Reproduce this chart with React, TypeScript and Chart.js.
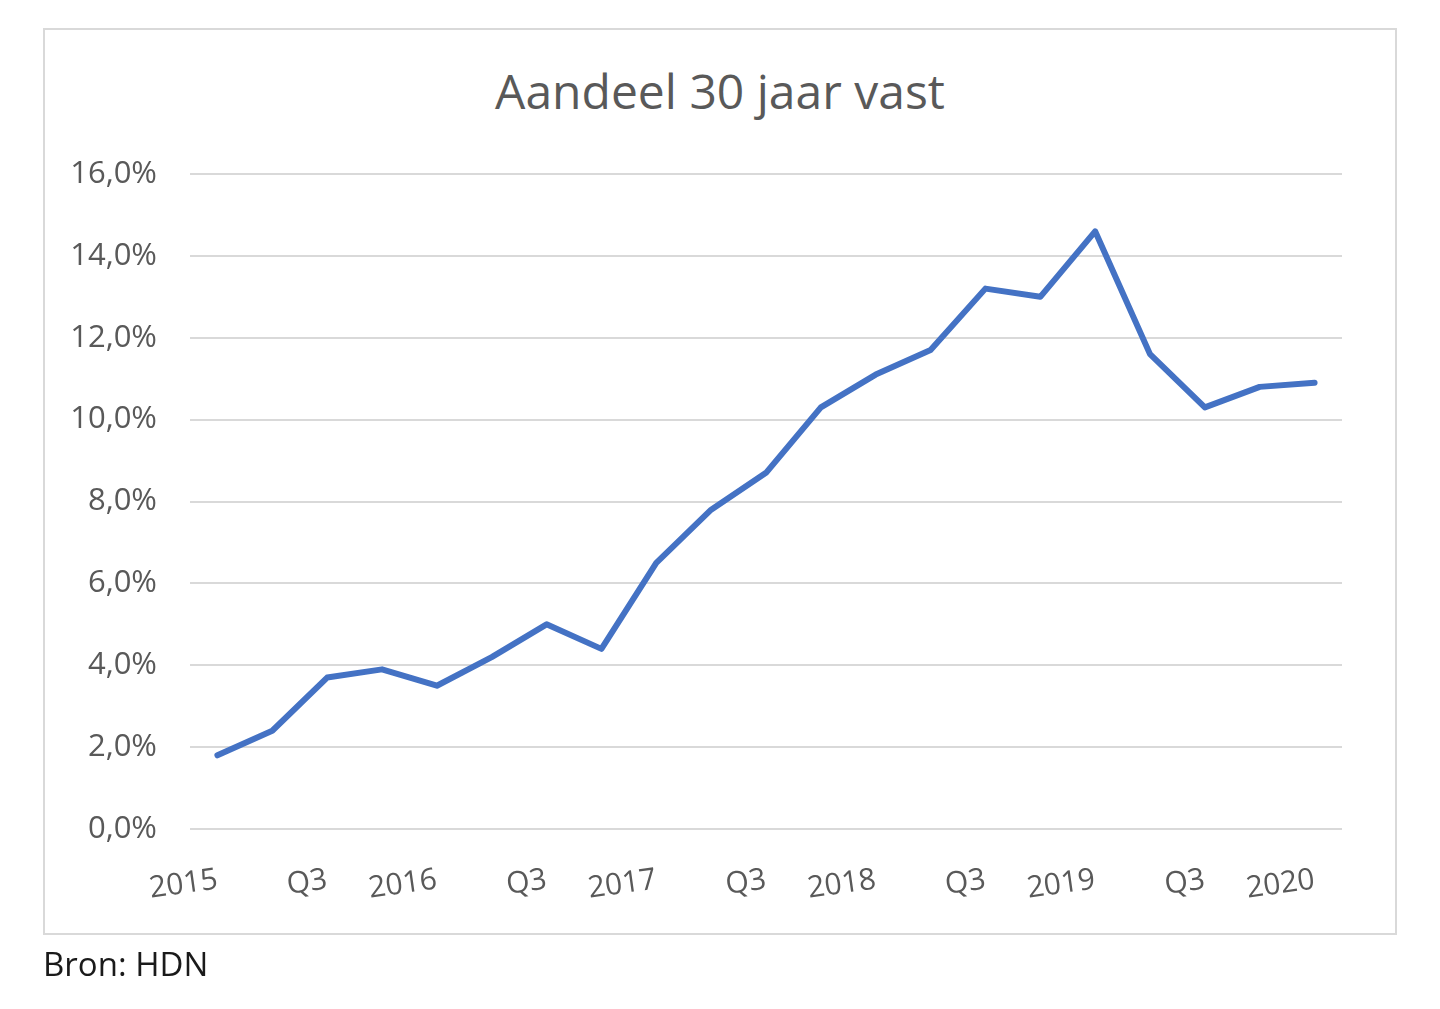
import { useEffect, useRef } from "react"
import { Chart, registerables } from "chart.js"

Chart.register(...registerables)

// Quarterly share of 30-year fixed mortgages, Q1 2015 .. Q1 2020
const quarters = [
  "2015 Q1", "2015 Q2", "2015 Q3", "2015 Q4",
  "2016 Q1", "2016 Q2", "2016 Q3", "2016 Q4",
  "2017 Q1", "2017 Q2", "2017 Q3", "2017 Q4",
  "2018 Q1", "2018 Q2", "2018 Q3", "2018 Q4",
  "2019 Q1", "2019 Q2", "2019 Q3", "2019 Q4",
  "2020 Q1",
]
const tickLabels = [
  "2015", "", "Q3", "",
  "2016", "", "Q3", "",
  "2017", "", "Q3", "",
  "2018", "", "Q3", "",
  "2019", "", "Q3", "",
  "2020",
]
const share = [
  1.8, 2.4, 3.7, 3.9,
  3.5, 4.2, 5.0, 4.4,
  6.5, 7.8, 8.7, 10.3,
  11.1, 11.7, 13.2, 13.0,
  14.6, 11.6, 10.3, 10.8,
  10.9,
]

const FONT = "'Open Sans', 'Noto Sans', sans-serif"
const GREY = "#595959"

export default function App() {
  const chartRef = useRef<HTMLCanvasElement>(null)
  const chartInstance = useRef<Chart | null>(null)

  useEffect(() => {
    if (!chartRef.current) return
    if (chartInstance.current) chartInstance.current.destroy()

    chartInstance.current = new Chart(chartRef.current, {
      type: "line",
      data: {
        labels: quarters,
        datasets: [
          {
            label: "Aandeel 30 jaar vast",
            data: share,
            borderColor: "#4472C4",
            borderWidth: 6,
            borderJoinStyle: "round",
            borderCapStyle: "round",
            pointRadius: 0,
            fill: false,
            tension: 0,
          },
        ],
      },
      options: {
        animation: false,
        responsive: true,
        maintainAspectRatio: false,
        layout: {
          padding: { left: 50, right: 98, top: 174, bottom: 100 },
        },
        scales: {
          x: {
            offset: true,
            grid: { display: false },
            border: { display: false },
            ticks: {
              autoSkip: false,
              minRotation: 8,
              maxRotation: 8,
              padding: 25,
              color: GREY,
              font: { family: FONT, size: 30 },
              callback: (_v, i) => tickLabels[i],
            },
            afterFit: (scale) => {
              scale.height = 80
            },
          },
          y: {
            min: 0,
            max: 16,
            border: { display: false },
            grid: { color: "#D9D9D9", lineWidth: 2, drawTicks: false },
            ticks: {
              stepSize: 2,
              padding: 33,
              color: GREY,
              font: { family: FONT, size: 31 },
              callback: (v) => Number(v).toFixed(1).replace(".", ",") + "%",
            },
            afterFit: (scale) => {
              scale.width = 140
            },
          },
        },
        plugins: {
          legend: { display: false },
          tooltip: { enabled: false },
          title: { display: false },
        },
      },
    })

    return () => {
      if (chartInstance.current) {
        chartInstance.current.destroy()
        chartInstance.current = null
      }
    }
  }, [])

  return (
    <div style={{ position: "absolute", left: 0, top: 0, width: 1440, height: 1009, background: "#fff" }}>
      <div
        style={{
          position: "absolute",
          left: 43,
          top: 28,
          width: 1354,
          height: 907,
          boxSizing: "border-box",
          border: "2px solid #D9D9D9",
        }}
      />
      <div
        style={{
          position: "absolute",
          left: 43,
          top: 67,
          width: 1354,
          textAlign: "center",
          fontFamily: FONT,
          fontSize: 48,
          lineHeight: 1,
          color: GREY,
        }}
      >
        Aandeel 30 jaar vast
      </div>
      <div style={{ position: "absolute", left: 0, top: 0, width: 1440, height: 1009 }}>
        <canvas ref={chartRef} />
      </div>
      <div
        style={{
          position: "absolute",
          left: 43,
          top: 947,
          fontFamily: FONT,
          fontSize: 33,
          lineHeight: 1,
          color: "#1A1A1A",
        }}
      >
        Bron: HDN
      </div>
    </div>
  )
}
